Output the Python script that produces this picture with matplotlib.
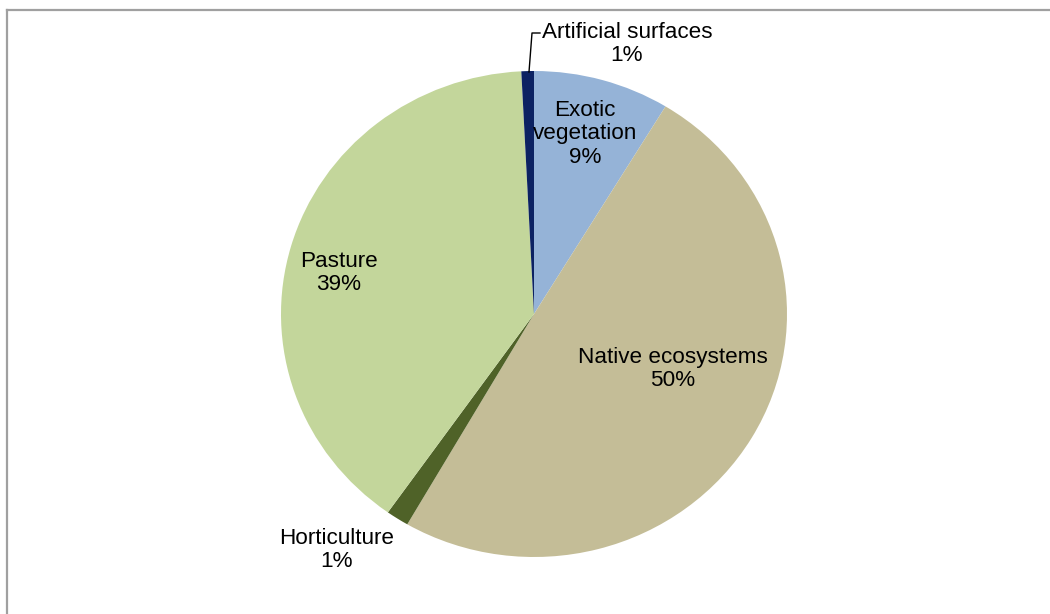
import matplotlib
matplotlib.use("Agg")
import matplotlib.pyplot as plt
from matplotlib.lines import Line2D

plt.rcParams["font.family"] = ["Liberation Sans", "DejaVu Sans"]

# Land cover shares (%), clockwise from 12 o'clock
categories = ["Exotic vegetation", "Native ecosystems", "Horticulture", "Pasture", "Artificial surfaces"]
shares = [8.7, 49.65, 1.45, 39.4, 0.8]
colors = ["#95B3D7", "#C4BD97", "#4F6228", "#C3D69B", "#0C2262"]
label_names = ["Exotic\nvegetation", "Native ecosystems", "Horticulture", "Pasture", "Artificial surfaces"]

W, H = 1050, 614
fig = plt.figure(figsize=(W / 100, H / 100), dpi=100)
ax = fig.add_axes([0, 0, 1, 1])

# pie geometry in pixels (slightly squashed vertically)
cx, cy = 534, 314
rx, ry = 253, 243

ax.pie(shares, colors=colors, startangle=90, counterclock=False,
       radius=1.0, center=(0, 0), wedgeprops=dict(linewidth=0),
       frame=False)
ax.set_xlim((0 - cx) / rx, (W - cx) / rx)
ax.set_ylim(-(H - cy) / ry, cy / ry)
ax.set_aspect("auto")
ax.axis("off")


def px(x, y):
    return (x - cx) / rx, (cy - y) / ry


label_pos = [(585, 134), (673, 369), (337, 550), (339, 273), (627, 44)]
for name, val, (lx, ly) in zip(label_names, shares, label_pos):
    txt = f"{name}\n{round(val):.0f}%"
    ax.text(*px(lx, ly), txt, ha="center", va="center", fontsize=16.2,
            linespacing=1.16, color="black")

# leader line for the thin slice
lead = [px(529, 72), px(532, 33), px(540, 33)]
ax.plot([p[0] for p in lead], [p[1] for p in lead], color="black", lw=1.0)

# chart area border (top and left edges)
fig.add_artist(Line2D([6.5 / W, 1.0], [1 - 9.5 / H, 1 - 9.5 / H],
                      transform=fig.transFigure, color="#A0A0A0", lw=1.6))
fig.add_artist(Line2D([6.5 / W, 6.5 / W], [1 - 9.5 / H, 0.0],
                      transform=fig.transFigure, color="#A0A0A0", lw=1.6))

fig.savefig("out.png", dpi=100, facecolor="white")
